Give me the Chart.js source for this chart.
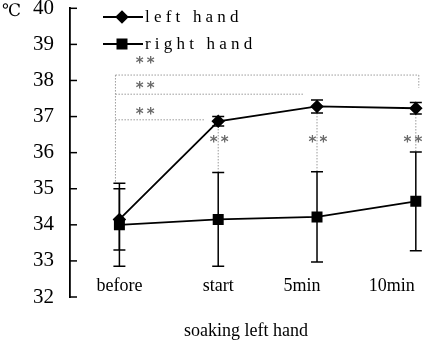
<!DOCTYPE html>
<html>
<head>
<meta charset="utf-8">
<script src="https://cdn.jsdelivr.net/npm/chart.js@4.4.0/dist/chart.umd.min.js"></script>
<style>
body{margin:0;background:#fff}
#wrap{width:434px;height:340px;position:relative}
</style>
</head>
<body>
<div id="wrap"><canvas id="c"></canvas></div>
<script>
const categories = ['before', 'start', '5min', '10min'];
const leftHand = [34.15, 36.87, 37.28, 37.23];
const leftErr = [0.85, 0.13, 0.18, 0.16];
const rightHand = [34.0, 34.15, 34.22, 34.65];
const rightErr = [1.15, 1.3, 1.25, 1.37];
const yTicks = [32, 33, 34, 35, 36, 37, 38, 39, 40];
const seriesNames = ['left hand', 'right hand'];

const serif = '"Liberation Serif", "Times New Roman", serif';
const gray = '#9a9a9a';
// small pixel nudges for the category labels, like in the figure
const labelShift = [0, 0, -15, -24];

function stars(ctx, cx, cy) {
  ctx.fillText('*', cx - 5.5, cy);
  ctx.fillText('*', cx + 5.5, cy);
}

const decor = {
  id: 'decor',
  beforeDatasetsDraw(chart) {
    const {ctx, scales: {x, y}, chartArea} = chart;
    const px = v => x.getPixelForValue(v), py = v => y.getPixelForValue(v);
    ctx.save();
    // tick marks point inward
    ctx.strokeStyle = '#000';
    ctx.lineWidth = 1.5;
    yTicks.forEach(v => {
      ctx.beginPath();
      ctx.moveTo(chartArea.left, py(v));
      ctx.lineTo(chartArea.left + 7, py(v));
      ctx.stroke();
    });

    // significance brackets
    ctx.strokeStyle = gray;
    ctx.lineWidth = 1;
    ctx.setLineDash([1.5, 1.5]);
    const seg = (x0, y0, x1, y1) => {
      ctx.beginPath();
      ctx.moveTo(px(x0), py(y0));
      ctx.lineTo(px(x1), py(y1));
      ctx.stroke();
    };
    seg(-0.04, 38.15, -0.04, 35.15);
    seg(-0.04, 38.15, 3.03, 38.15);
    seg(3.03, 38.15, 3.03, 37.8);
    seg(-0.04, 37.62, 1.87, 37.62);
    seg(-0.04, 36.91, 0.86, 36.91);
    for (let i = 1; i < categories.length; i++) {
      seg(i, leftHand[i] - leftErr[i], i, rightHand[i] + rightErr[i]);
    }
    ctx.setLineDash([]);

    ctx.fillStyle = '#6a6a6a';
    ctx.font = 'bold 15px "DejaVu Sans", sans-serif';
    ctx.textAlign = 'center';
    ctx.textBaseline = 'middle';
    stars(ctx, px(0.26), py(38.15) - 11);
    stars(ctx, px(0.26), py(37.62) - 5);
    stars(ctx, px(0.26), py(36.91) - 5);
    for (let i = 1; i < categories.length; i++) {
      stars(ctx, px(i) + (i === 3 ? -3 : 1), py(36.33) + 2);
    }

    // error bars
    ctx.strokeStyle = '#000';
    ctx.lineWidth = 1.5;
    [[leftHand, leftErr], [rightHand, rightErr]].forEach(([vals, errs]) => {
      vals.forEach((v, i) => {
        const cx = px(i), top = py(v + errs[i]), bot = py(v - errs[i]);
        ctx.beginPath();
        ctx.moveTo(cx, top); ctx.lineTo(cx, bot);
        ctx.moveTo(cx - 6, top); ctx.lineTo(cx + 6, top);
        ctx.moveTo(cx - 6, bot); ctx.lineTo(cx + 6, bot);
        ctx.stroke();
      });
    });
    ctx.restore();
  },
  afterDraw(chart) {
    const {ctx, scales: {x, y}} = chart;
    ctx.save();
    ctx.fillStyle = '#000';
    ctx.textBaseline = 'middle';

    // category labels inside the plot
    ctx.font = '18px ' + serif;
    ctx.textAlign = 'center';
    categories.forEach((c, i) => {
      ctx.fillText(c, x.getPixelForValue(i) + labelShift[i], y.getPixelForValue(32) - 11);
    });

    // axis title
    ctx.font = '18px ' + serif;
    ctx.fillText('soaking left hand', 246, 331);

    // unit
    ctx.font = '17px "DejaVu Serif", serif';
    ctx.textAlign = 'left';
    ctx.fillText('℃', 2, 12);

    // legend
    const marks = ['rectRot', 'rect'];
    const rads = [5.5, 6.5];
    seriesNames.forEach((name, i) => {
      const ly = 17 + i * 27;
      ctx.strokeStyle = '#000';
      ctx.lineWidth = 1.8;
      ctx.beginPath();
      ctx.moveTo(103, ly); ctx.lineTo(143, ly);
      ctx.stroke();
      Chart.helpers.drawPoint(ctx, {pointStyle: marks[i], radius: rads[i], borderWidth: 1}, 122, ly);
      ctx.fill();
      ctx.font = '17px ' + serif;
      ctx.letterSpacing = '4.2px';
      ctx.fillText(name, 145, ly + 1);
      ctx.letterSpacing = '0px';
    });
    ctx.restore();
  }
};

new Chart(document.getElementById('c'), {
  type: 'line',
  data: {
    datasets: [
      {
        label: seriesNames[0],
        data: leftHand.map((v, i) => ({x: i, y: v})),
        borderColor: '#000', backgroundColor: '#000',
        borderWidth: 1.8, pointStyle: 'rectRot', pointRadius: 5.5, pointHoverRadius: 5.5
      },
      {
        label: seriesNames[1],
        data: rightHand.map((v, i) => ({x: i, y: v})),
        borderColor: '#000', backgroundColor: '#000',
        borderWidth: 1.8, pointStyle: 'rect', pointRadius: 6.5, pointHoverRadius: 6.5
      }
    ]
  },
  options: {
    responsive: true,
    maintainAspectRatio: false,
    animation: false,
    events: [],
    layout: {padding: {top: 7, right: 0, bottom: 43, left: 0}},
    plugins: {legend: {display: false}, tooltip: {enabled: false}},
    scales: {
      x: {
        type: 'linear', min: -0.5, max: 3.1,
        display: false
      },
      y: {
        min: 32, max: 40,
        afterFit(scale) {
          scale.width = 70;
          scale.paddingTop = 0;
          scale.paddingBottom = 0;
        },
        grid: {display: false},
        border: {display: true, color: '#000', width: 1.8},
        ticks: {
          stepSize: 1, padding: 8, color: '#000',
          font: {family: serif, size: 21}
        }
      }
    }
  },
  plugins: [decor]
});
</script>
</body>
</html>
